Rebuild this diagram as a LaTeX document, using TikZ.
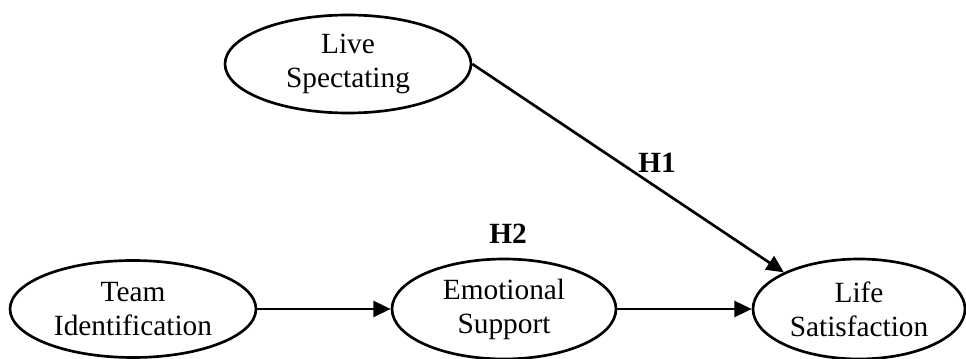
\documentclass[tikz,border=0pt]{standalone}
\usepackage{fontspec}
\setmainfont{Liberation Serif}
\usetikzlibrary{shapes.geometric,arrows.meta}
\tikzset{
  construct/.style={ellipse, draw, line width=2pt, inner sep=0pt, align=center,
    font=\fontsize{22}{25.5}\selectfont},
  path/.style={line width=2pt, -{Triangle[length=13pt,width=12pt]}},
  hyp/.style={font=\fontsize{22}{24}\selectfont\bfseries}
}
\begin{document}
\begin{tikzpicture}[x=0.75pt,y=-0.75pt]
\useasboundingbox (0,0) rectangle (966,359);
\node[construct, minimum width=246*0.75pt, minimum height=98*0.75pt] (live) at (348,64) {Live\\Spectating};
\node[construct, minimum width=246*0.75pt, minimum height=97*0.75pt] (team) at (133,309) {Team\\Identification};
\node[construct, minimum width=224*0.75pt, minimum height=100*0.75pt] (emo) at (504,309) {Emotional\\Support};
\node[construct, minimum width=212*0.75pt, minimum height=100*0.75pt] (life) at (859,309) {Life\\Satisfaction};
\draw[path] (team) -- (emo);
\draw[path] (emo) -- (life);
\draw[path] (live.east) -- (life.154);
\node[hyp] (h1) at (657,163) {H1};
\node[hyp] (h2) at (508,234) {H2};
\end{tikzpicture}
\end{document}
